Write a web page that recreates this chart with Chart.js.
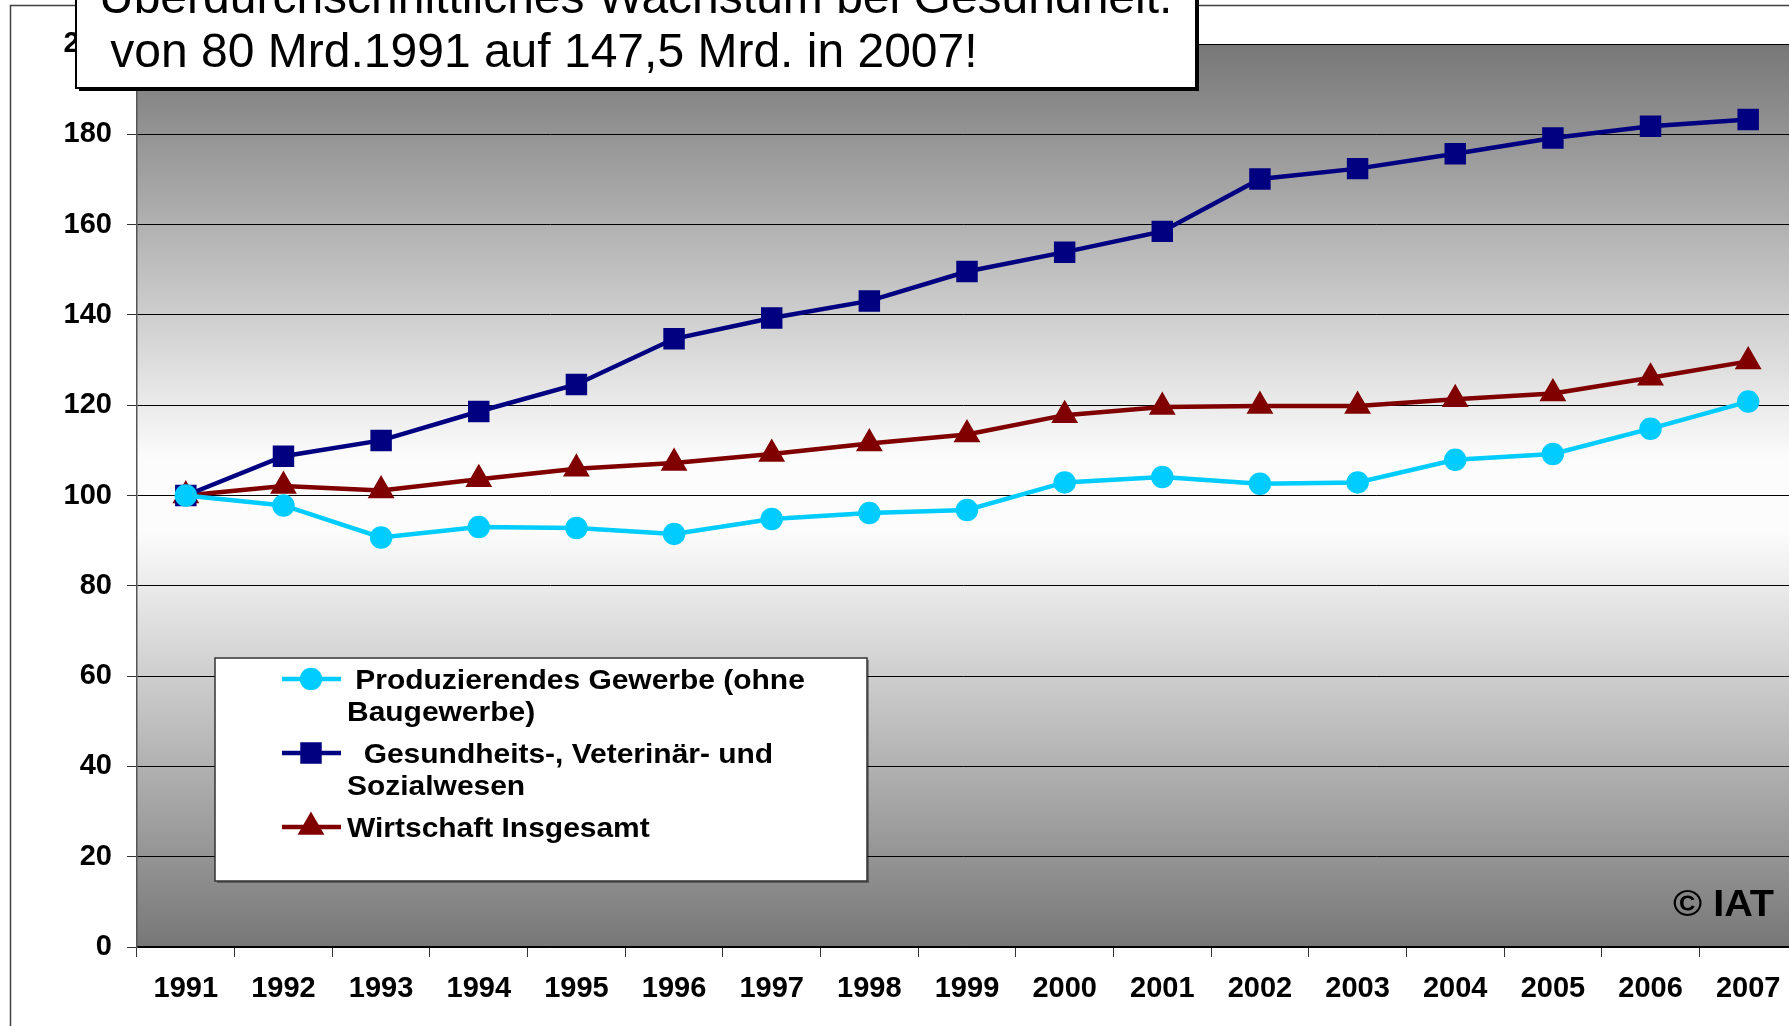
<!DOCTYPE html>
<html>
<head>
<meta charset="utf-8">
<script src="https://cdn.jsdelivr.net/npm/chart.js@4"></script>
<style>
  html, body { margin: 0; padding: 0; background: #fff; }
  #wrap { position: relative; width: 1789px; height: 1026px; overflow: hidden; }
</style>
</head>
<body>
<div id="wrap"><canvas id="growthChart" width="1789" height="1026"></canvas></div>
<script>
// Wachstum nach Branchen, Index 1991 = 100

const years = ['1991', '1992', '1993', '1994', '1995', '1996', '1997', '1998', '1999',
               '2000', '2001', '2002', '2003', '2004', '2005', '2006', '2007'];

const produzierendes = [100, 97.8, 90.7, 93.0, 92.8, 91.5, 94.8, 96.1, 96.8,
                        102.9, 104.1, 102.6, 102.9, 107.9, 109.2, 114.8, 120.8];
const gesundheit = [100, 108.7, 112.2, 118.6, 124.6, 134.7, 139.3, 143.1, 149.6,
                    153.9, 158.5, 170.1, 172.4, 175.7, 179.2, 181.8, 183.3];
const wirtschaft = [100, 102.1, 101.1, 103.6, 105.9, 107.2, 109.2, 111.5, 113.5,
                    117.8, 119.6, 119.8, 119.8, 121.3, 122.6, 126.1, 129.7];

const seriesNames = ['Produzierendes Gewerbe (ohne Baugewerbe)',
                     'Gesundheits-, Veterinär- und Sozialwesen',
                     'Wirtschaft Insgesamt'];
const legendLines = [[' Produzierendes Gewerbe (ohne', 'Baugewerbe)'],
                     ['  Gesundheits-, Veterinär- und', 'Sozialwesen'],
                     ['Wirtschaft Insgesamt']];

const yMin = 0, yMax = 200, yStep = 20;

const titleLines = ['Überdurchschnittliches Wachstum bei Gesundheit.',
                    ' von 80 Mrd.1991 auf 147,5 Mrd. in 2007!'];

const FONT = "'Liberation Sans', Arial, sans-serif";

// the plot area runs a little past the right edge of the picture
const overhangPlugin = {
    id: 'overhang',
    afterLayout(chart) {
        const extra = 8;
        chart.chartArea.right += extra;
        chart.chartArea.width += extra;
        const xs = chart.scales.x;
        xs.right += extra;
        xs.width += extra;
        xs.configure();
    }
};

// plot background: grey - white - grey
const backgroundPlugin = {
    id: 'plotBackground',
    beforeDraw(chart) {
        const ctx = chart.ctx;
        const a = chart.chartArea;
        ctx.save();
        ctx.fillStyle = '#ffffff';
        ctx.fillRect(0, 0, chart.width, chart.height);
        // outer frame
        ctx.strokeStyle = '#404040';
        ctx.lineWidth = 1.5;
        ctx.beginPath();
        ctx.moveTo(10.5, chart.height + 5);
        ctx.lineTo(10.5, 5.5);
        ctx.lineTo(chart.width + 5, 5.5);
        ctx.stroke();
        const g = ctx.createLinearGradient(0, a.top, 0, a.bottom);
        g.addColorStop(0, '#777777');
        g.addColorStop(0.46, '#fcfcfc');
        g.addColorStop(0.54, '#fcfcfc');
        g.addColorStop(1, '#777777');
        ctx.fillStyle = g;
        ctx.fillRect(a.left, a.top, a.right - a.left, a.bottom - a.top);
        ctx.restore();
    }
};

// legend box, title box and copyright
const overlayPlugin = {
    id: 'overlay',
    afterDraw(chart) {
        const ctx = chart.ctx;
        ctx.save();

        // legend
        const lx = 215, ly = 658, lw = 652, lh = 223;
        ctx.fillStyle = 'rgba(0,0,0,0.35)';
        ctx.fillRect(lx + 2, ly + 2, lw, lh);
        ctx.fillStyle = '#ffffff';
        ctx.fillRect(lx, ly, lw, lh);
        ctx.strokeStyle = '#333333';
        ctx.lineWidth = 1.5;
        ctx.strokeRect(lx, ly, lw, lh);

        const rowY = [679, 753, 827];
        ctx.textBaseline = 'alphabetic';
        chart.data.datasets.forEach((ds, i) => {
            const y = rowY[i];
            ctx.strokeStyle = ds.borderColor;
            ctx.lineWidth = ds.borderWidth;
            ctx.beginPath();
            ctx.moveTo(282, y);
            ctx.lineTo(341, y);
            ctx.stroke();
            Chart.helpers.drawPoint(ctx, {
                pointStyle: ds.pointStyle,
                radius: ds.pointRadius,
                rotation: 0,
                borderWidth: 1
            }, 311, y);
            ctx.fillStyle = ds.pointBackgroundColor;
            ctx.fill();
            ctx.fillStyle = '#000000';
            ctx.font = 'bold 28px ' + FONT;
            legendLines[i].forEach((t, k) => {
                ctx.save();
                ctx.translate(347, y + 10 + k * 32);
                ctx.scale(1.07, 1);
                ctx.fillText(t, 0, 0);
                ctx.restore();
            });
        });

        // title box
        const tx = 76, ty = -10, tw = 1120, th = 98;
        ctx.fillStyle = '#000000';
        ctx.fillRect(tx + 3, ty + 3, tw, th);
        ctx.fillStyle = '#ffffff';
        ctx.fillRect(tx, ty, tw, th);
        ctx.strokeStyle = '#000000';
        ctx.lineWidth = 2;
        ctx.strokeRect(tx, ty, tw, th);
        ctx.fillStyle = '#000000';
        ctx.font = '48px ' + FONT;
        ctx.fillText(titleLines[0], 99, 13);
        ctx.fillText(titleLines[1], 97, 67);

        // copyright
        ctx.font = 'bold 36px ' + FONT;
        ctx.save();
        ctx.translate(1673, 916);
        ctx.scale(1.1, 1);
        ctx.fillText('© IAT', 0, 0);
        ctx.restore();

        ctx.restore();
    }
};

const ctx = document.getElementById('growthChart').getContext('2d');

new Chart(ctx, {
    type: 'line',
    data: {
        labels: years,
        datasets: [{
            label: seriesNames[0],
            data: produzierendes,
            borderColor: '#00CCFF',
            backgroundColor: '#00CCFF',
            pointBackgroundColor: '#00CCFF',
            pointBorderColor: '#00CCFF',
            pointStyle: 'circle',
            pointRadius: 9,
            borderWidth: 4.5,
            tension: 0
        }, {
            label: seriesNames[1],
            data: gesundheit,
            borderColor: '#000080',
            backgroundColor: '#000080',
            pointBackgroundColor: '#000080',
            pointBorderColor: '#000080',
            pointStyle: 'rect',
            pointRadius: 12,
            borderWidth: 4.5,
            tension: 0
        }, {
            label: seriesNames[2],
            data: wirtschaft,
            borderColor: '#800000',
            backgroundColor: '#800000',
            pointBackgroundColor: '#800000',
            pointBorderColor: '#800000',
            pointStyle: 'triangle',
            pointRadius: 11,
            borderWidth: 4.5,
            tension: 0
        }]
    },
    options: {
        responsive: false,
        animation: false,
        layout: {
            autoPadding: false,
            padding: { top: 44, right: 0, left: 0, bottom: 0 }
        },
        plugins: {
            legend: { display: false },
            tooltip: { enabled: false }
        },
        scales: {
            x: {
                offset: true,
                grid: {
                    offset: true,
                    drawOnChartArea: false,
                    drawTicks: true,
                    tickLength: 10,
                    tickColor: '#333333'
                },
                border: { color: '#000000', width: 1.5 },
                ticks: {
                    color: '#000000',
                    font: { family: FONT, size: 29, weight: 'bold' },
                    padding: 15,
                    maxRotation: 0,
                    autoSkip: false
                },
                afterFit(scale) {
                    scale.height = 79;
                    scale.paddingLeft = 0;
                    scale.paddingRight = 0;
                }
            },
            y: {
                min: yMin,
                max: yMax,
                grid: {
                    color: '#000000',
                    lineWidth: 1,
                    tickLength: 10,
                    tickColor: '#333333'
                },
                border: { color: '#555555', width: 1.5 },
                ticks: {
                    stepSize: yStep,
                    color: '#000000',
                    font: { family: FONT, size: 29, weight: 'bold' },
                    padding: 15
                },
                afterFit(scale) {
                    scale.width = 137;
                    scale.paddingTop = 0;
                    scale.paddingBottom = 0;
                }
            }
        }
    },
    plugins: [overhangPlugin, backgroundPlugin, overlayPlugin]
});
</script>
</body>
</html>
